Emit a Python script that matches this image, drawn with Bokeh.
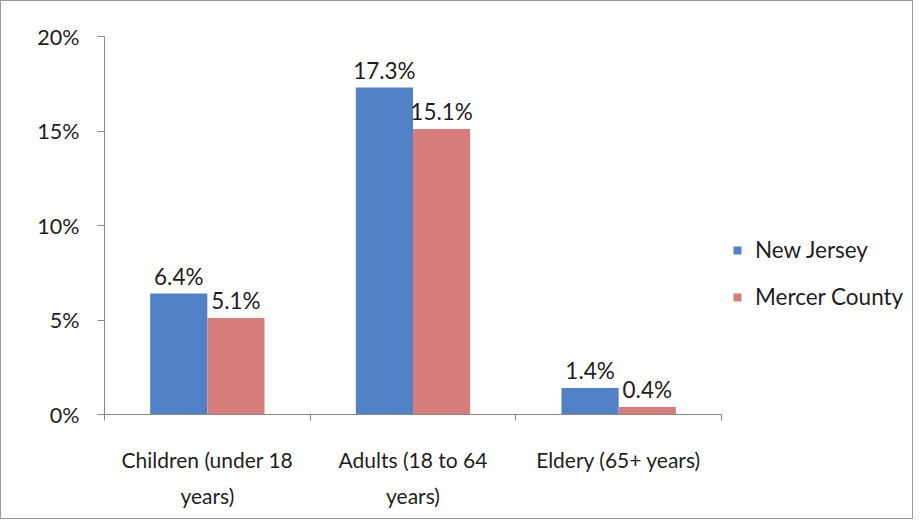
from bokeh.plotting import figure
from bokeh.models import (ColumnDataSource, Range1d, FixedTicker, LabelSet, Legend,
                          LegendItem, PrintfTickFormatter, LinearAxis)
from bokeh.core.properties import value
from bokeh.embed import file_html
from bokeh.resources import INLINE

categories = ["Children (under 18\nyears)", "Adults (18 to 64\nyears)", "Eldery (65+ years)"]
series = ["New Jersey", "Mercer County"]
new_jersey = [6.4, 17.3, 1.4]
mercer = [5.1, 15.1, 0.4]
y_ticks = [0, 5, 10, 15, 20]

BLUE = "#5181C6"
RED = "#D77D7C"
FONT = "Lato"
AXIS_C = "#8a8a8a"
TXT = "#1e1e1e"

W, H = 913, 519
LEFT, TOP, BOTTOM, RIGHT = 103, 35, 106, 8
AXIS_W = 617  # pixel length of the category axis
frame_w = W - LEFT - RIGHT
n = len(categories)
x_end = n * frame_w / AXIS_W

bw = 0.278
centers = [i + 0.5 for i in range(n)]
boundaries = [float(i) for i in range(n + 1)]

src_nj = ColumnDataSource(dict(x=[c - bw / 2 for c in centers], top=new_jersey,
                               label=[f"{v:.1f}%" for v in new_jersey]))
src_mc = ColumnDataSource(dict(x=[c + bw / 2 for c in centers], top=mercer,
                               label=[f"{v:.1f}%" for v in mercer]))

p = figure(width=W, height=H, x_range=Range1d(0, x_end), y_range=Range1d(0, 20),
           output_backend="svg", toolbar_location=None, x_axis_type=None, y_axis_type=None,
           min_border_left=LEFT, min_border_right=RIGHT, min_border_top=TOP,
           min_border_bottom=BOTTOM)
p.outline_line_color = None
p.xgrid.visible = False
p.ygrid.visible = False
p.styles = {"border": "1px solid #9a9a9a"}

r1 = p.vbar(x="x", top="top", width=bw, source=src_nj, fill_color=BLUE, line_color=None)
r2 = p.vbar(x="x", top="top", width=bw, source=src_mc, fill_color=RED, line_color=None)

for src in (src_nj, src_mc):
    p.add_layout(LabelSet(x="x", y="top", text="label", source=src, text_align="center",
                          text_baseline="alphabetic", y_offset=9, text_font=value(FONT),
                          text_font_size=value("22.5px"), text_color=TXT))

yaxis = LinearAxis(ticker=FixedTicker(ticks=y_ticks, minor_ticks=[]),
                   formatter=PrintfTickFormatter(format="%d%%"))
yaxis.axis_line_color = AXIS_C
yaxis.major_tick_line_color = AXIS_C
yaxis.major_tick_out = 7
yaxis.major_tick_in = 0
yaxis.major_label_standoff = 18
yaxis.major_label_text_font = FONT
yaxis.major_label_text_font_size = "21.5px"
yaxis.major_label_text_color = TXT
p.add_layout(yaxis, "left")

xaxis = LinearAxis(ticker=FixedTicker(ticks=centers, minor_ticks=boundaries),
                   bounds=(0, n))
xaxis.major_label_overrides = {c: lab for c, lab in zip(centers, categories)}
xaxis.axis_line_color = AXIS_C
xaxis.major_tick_line_color = None
xaxis.major_tick_out = 0
xaxis.major_tick_in = 0
xaxis.minor_tick_line_color = AXIS_C
xaxis.minor_tick_out = 6
xaxis.minor_tick_in = 0
xaxis.major_label_standoff = 26
xaxis.major_label_text_font = FONT
xaxis.major_label_text_font_size = "21px"
xaxis.major_label_text_color = TXT
xaxis.major_label_text_line_height = 1.45
p.add_layout(xaxis, "below")

legend = Legend(items=[LegendItem(label=series[0], renderers=[r1]),
                       LegendItem(label=series[1], renderers=[r2])],
                location=(628, 104), orientation="vertical")
legend.border_line_color = None
legend.background_fill_alpha = 0
legend.padding = 0
legend.margin = 0
legend.spacing = 20
legend.glyph_width = 10
legend.glyph_height = 10
legend.label_standoff = 13
legend.label_text_font = FONT
legend.label_text_font_size = "22.5px"
legend.label_text_color = TXT
p.add_layout(legend, "center")

open("out.html", "w").write(file_html(p, INLINE))
